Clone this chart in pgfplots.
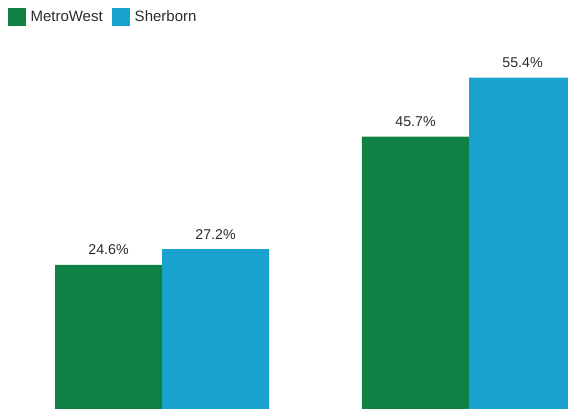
\documentclass[border=0pt]{standalone}
\usepackage{pgfplots}
\pgfplotsset{compat=1.18}
\usepackage{fontspec}
\setmainfont{Liberation Sans}
\definecolor{mwgreen}{HTML}{108145}
\definecolor{shblue}{HTML}{1AA2CE}
\definecolor{txt}{HTML}{2B2B2B}
\begin{document}
\begin{tikzpicture}
\path[use as bounding box, clip] (0,0) rectangle (568bp,409bp);
\begin{axis}[
  at={(0,0)}, anchor=south west,
  scale only axis, width=568bp, height=409bp,
  hide axis,
  xmin=-0.5277, xmax=1.3225,
  ymin=0.92, ymax=68.16,
  ybar=0pt, bar width=107bp,
  nodes near coords,
  point meta=explicit symbolic,
  every node near coord/.append style={anchor=base, yshift=10bp, inner sep=0pt, text=txt, font=\fontsize{14.2bp}{17bp}\selectfont},
  legend columns=2,
  legend style={at={(axis description cs:0.0141,0.9804)}, anchor=north west, draw=none, fill=none, inner sep=0pt, outer sep=0pt,
    font=\fontsize{15bp}{18bp}\selectfont, text=txt,
    /tikz/every even column/.append style={column sep=5bp},
    nodes={inner xsep=4.5bp, inner ysep=0pt}},
  legend image code/.code={\fill[#1] (0bp,-9bp) rectangle (18bp,9bp);},
  legend cell align=left,
]
\addplot[fill=mwgreen, draw=none] coordinates {(0,24.6) [24.6\%] (1,45.7) [45.7\%]};
\addplot[fill=shblue, draw=none] coordinates {(0,27.2) [27.2\%] (1,55.4) [55.4\%]};
\legend{MetroWest, Sherborn}
\end{axis}
\end{tikzpicture}
\end{document}
